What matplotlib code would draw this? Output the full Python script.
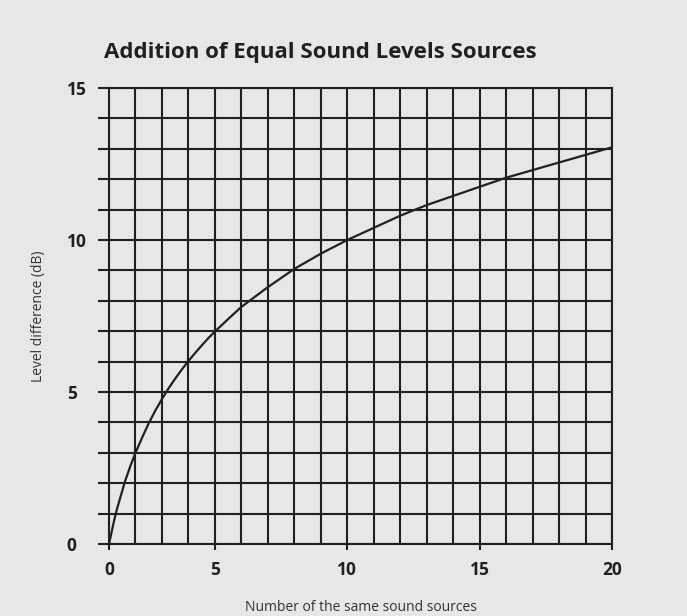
import numpy as np
import matplotlib.pyplot as plt
from matplotlib.ticker import FixedLocator

# number of sources (axis starts at one source, labelled "0") and level
sources = [1, 1.1, 1.2, 1.3, 1.4, 1.6, 1.8, 2, 2.25, 2.5, 2.75, 3, 3.25, 3.5, 3.75, 4,
           4.25, 4.5, 4.75, 5, 5.5, 6, 7, 8, 9, 10, 11, 12, 13, 14, 15, 16, 17, 18, 19, 20]
level_db = [0.0, 0.4, 0.8, 1.15, 1.45, 2.05, 2.55, 3.0, 3.5, 3.97, 4.39, 4.77, 5.12, 5.44,
            5.74, 6.02, 6.28, 6.53, 6.77, 6.99, 7.4, 7.8, 8.45, 9.05, 9.55, 10.0, 10.4,
            10.8, 11.15, 11.45, 11.75, 12.05, 12.3, 12.55, 12.8, 13.05]

xtick_pos = [1, 5, 10, 15, 20]
xtick_lab = ['0', '5', '10', '15', '20']
ytick_pos = [0, 5, 10, 15]
ytick_lab = ['0', '5', '10', '15']

bg = '#e6e7e9'
ink = '#231f20'
plt.rcParams['font.family'] = ['Open Sans', 'DejaVu Sans']

fig = plt.figure(figsize=(6.87, 6.16), dpi=100, facecolor=bg)
ax = fig.add_axes([0.1587, 0.1169, 0.7321, 0.7402], facecolor=bg)

ax.plot(sources, level_db, color=ink, lw=1.6, zorder=3, solid_capstyle='round')

ax.set_xlim(1, 20)
ax.set_ylim(0, 15)

ax.xaxis.set_major_locator(FixedLocator(xtick_pos))
ax.set_xticklabels(xtick_lab)
ax.xaxis.set_minor_locator(FixedLocator(np.arange(1, 21)))
ax.yaxis.set_major_locator(FixedLocator(ytick_pos))
ax.set_yticklabels(ytick_lab, ha='left')
ax.yaxis.set_minor_locator(FixedLocator(np.arange(0, 16)))

ax.tick_params(axis='x', which='major', length=4.5, width=1.5, color=ink, pad=8,
               labelsize=12.5, labelcolor=ink)
ax.tick_params(axis='x', which='minor', length=0)
ax.tick_params(axis='y', which='both', length=8, width=1.5, color=ink, pad=22.5,
               labelsize=12.5, labelcolor=ink)
for lab in ax.get_xticklabels() + ax.get_yticklabels():
    lab.set_fontweight('bold')

ax.grid(True, which='both', color=ink, lw=1.5)
ax.set_axisbelow(True)
for s in ax.spines.values():
    s.set_color(ink)
    s.set_linewidth(1.5)

ax.set_xlabel('Number of the same sound sources', fontsize=10, color='#333333', labelpad=15)
ax.set_ylabel('Level difference (dB)', fontsize=10, color='#333333')
ax.yaxis.set_label_coords(-0.125, 0.5)

fig.text(104 / 687, 1 - 58 / 616, 'Addition of Equal Sound Levels Sources', fontsize=16,
         fontweight='bold', color=ink, ha='left', va='baseline')

fig.savefig('out.png', dpi=100, facecolor=bg)
